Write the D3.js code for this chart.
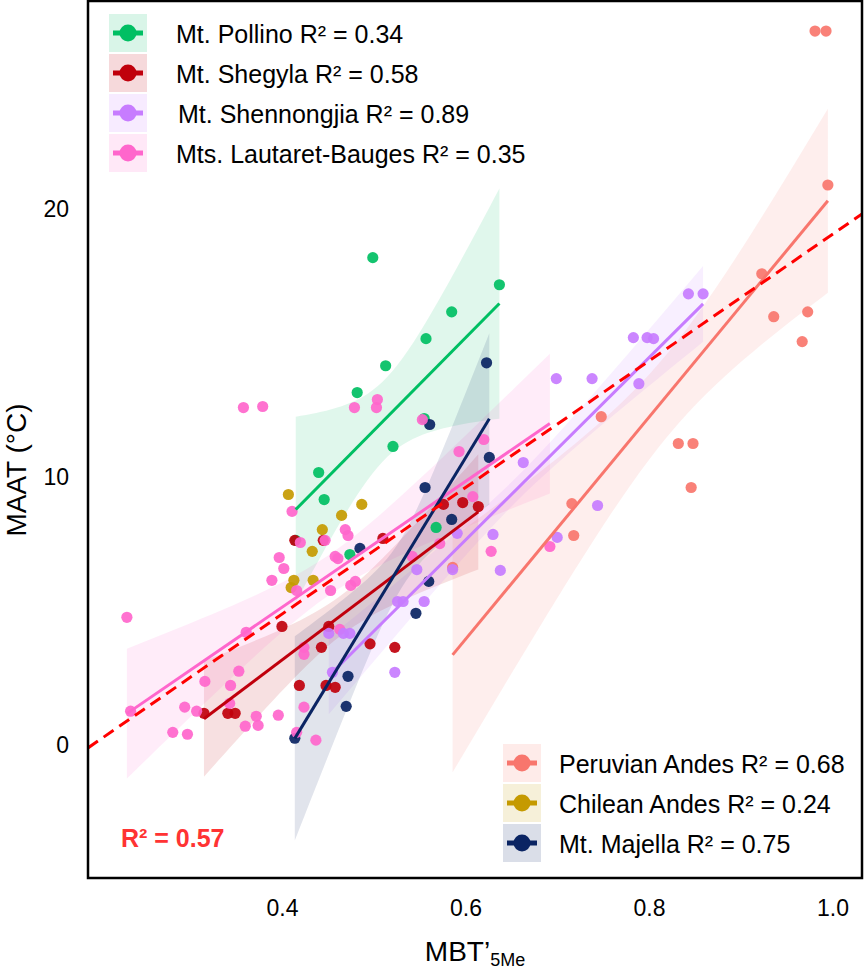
<!DOCTYPE html>
<html>
<head>
<meta charset="utf-8">
<script src="https://cdn.jsdelivr.net/npm/d3@7"></script>
<style>
  body { margin: 0; background: #fff; }
  text { font-family: "Liberation Sans", Arial, sans-serif; }
</style>
</head>
<body>
<div id="chart"></div>
<script>

// GROUPS (legend order)
var groupNames = ["Mt. Pollino", "Mt. Shegyla", "Mt. Shennongjia", "Mts. Lautaret-Bauges",
                  "Peruvian Andes", "Chilean Andes", "Mt. Majella"];
var groupR2 = ["0.34", "0.58", "0.89", "0.35", "0.68", "0.24", "0.75"];
var groupColors = ["#00bf63", "#c0000c", "#c77cff", "#ff66cc", "#f8766d", "#c59a00", "#0a2463"];

// MBT'5Me vs MAAT
var pollino = [[0.499,18.18],[0.585,16.16],[0.637,17.17],[0.557,15.16],[0.513,14.15],[0.482,13.15],
  [0.521,11.14],[0.555,12.18],[0.440,10.17],[0.446,9.16],[0.415,7.64],[0.474,7.11],[0.568,8.12]];

var shegyla = [[0.315,1.19],[0.341,1.19],[0.349,1.19],[0.400,4.43],[0.419,2.23],[0.443,3.65],
  [0.448,2.23],[0.458,2.16],[0.451,4.43],[0.496,3.78],[0.523,3.65],[0.510,7.71],[0.445,7.64],
  [0.414,7.64],[0.576,8.98],[0.597,9.05],[0.614,8.90]];

var shennongjia = [[0.455,2.72],[0.523,2.72],[0.451,4.17],[0.467,4.17],[0.474,4.17],[0.526,5.36],
  [0.532,5.36],[0.555,5.36],[0.547,6.55],[0.586,6.55],[0.591,7.90],[0.630,7.86],[0.638,6.52],
  [0.663,10.54],[0.700,7.75],[0.744,8.94],[0.699,13.67],[0.738,13.67],[0.789,13.48],[0.783,15.20],
  [0.798,15.20],[0.805,15.16],[0.843,16.83],[0.859,16.83]];

var lautaret = [[0.231,4.77],[0.235,1.27],[0.281,0.48],[0.297,0.41],[0.294,1.42],[0.307,1.27],
  [0.316,2.38],[0.343,1.56],[0.344,2.23],[0.353,2.76],[0.360,0.71],[0.361,4.21],[0.372,1.08],
  [0.374,0.74],[0.396,1.12],[0.389,6.15],[0.397,7.00],[0.402,6.59],[0.358,12.59],[0.379,12.63],
  [0.411,8.72],[0.416,5.77],[0.420,7.56],[0.424,3.65],[0.424,3.39],[0.424,1.42],[0.416,0.48],
  [0.437,0.19],[0.447,7.64],[0.453,5.77],[0.458,7.04],[0.461,6.96],[0.469,8.04],[0.472,7.82],
  [0.475,5.96],[0.480,6.11],[0.463,4.32],[0.479,12.59],[0.504,12.89],[0.503,12.59],[0.553,12.14],
  [0.593,10.95],[0.620,11.40],[0.608,9.27],[0.572,7.52],[0.542,7.04],[0.628,7.23],[0.692,7.41]];

var peruvian = [[0.586,6.63],[0.716,9.01],[0.718,7.82],[0.748,12.25],[0.832,11.25],[0.848,11.25],
  [0.846,9.61],[0.923,17.58],[0.936,15.98],[0.973,16.16],[0.967,15.05],[0.995,20.89],
  [0.981,26.63],[0.993,26.63]];

var chilean = [[0.407,9.35],[0.487,8.98],[0.465,8.57],[0.444,8.04],[0.433,7.23],[0.413,6.15],
  [0.434,6.15],[0.410,5.88]];

var majella = [[0.414,0.26],[0.470,1.45],[0.472,2.57],[0.485,7.34],[0.546,4.92],[0.560,6.11],
  [0.585,8.42],[0.556,9.61],[0.561,11.96],[0.626,10.73],[0.623,14.26]];

var groupPoints = [pollino, shegyla, shennongjia, lautaret, peruvian, chilean, majella];

// FITTED LINES (null = no line drawn)
var fitSlope     = [34.6, 25.8, 34.0, 23.46, 41.4, null, 56.2];
var fitIntercept = [-5.57, -7.14, -12.75, -4.24, -20.89, null, -23.01];

// CONFIDENCE BAND: centre x, half width there, widening
var bandCenter = [0.512, 0.465, 0.656, 0.452, 0.82, null, 0.53];
var bandMin    = [1.49, 0.75, 0.45, 0.75, 1.55, null, 0.93];
var bandSpread = [32.2, 13.5, 6.6, 10.4, 17.5, null, 31.8];

// ALL DATA FIT
var allSlope = 23.6, allIntercept = -4.55, allR2 = "0.57";

var xTicks = [0.4, 0.6, 0.8, 1.0];
var yTicks = [0, 10, 20];

// SIZES
var svgWidth = 864, svgHeight = 970;
var margin = {top: 1, right: 2, bottom: 92, left: 88};
var width = svgWidth - margin.left - margin.right;
var height = svgHeight - margin.top - margin.bottom;

var svg = d3.select("#chart").append("svg")
    .attr("width", svgWidth)
    .attr("height", svgHeight);

var chartGroup = svg.append("g")
    .attr("transform", `translate(${margin.left}, ${margin.top})`);

var x = d3.scaleLinear().domain([0.1886, 1.0322]).range([0, width]);
var y = d3.scaleLinear().domain([-4.95, 27.75]).range([height, 0]);

chartGroup.append("clipPath").attr("id", "clip")
  .append("rect").attr("width", width).attr("height", height);

var plot = chartGroup.append("g").attr("clip-path", "url(#clip)");

// BANDS
groupPoints.forEach(function(pts, i) {
    if (fitSlope[i] === null) return;
    var ext = d3.extent(pts, function(d) { return d[0]; });
    var xs = d3.range(0, 41).map(function(k) { return ext[0] + (ext[1] - ext[0]) * k / 40; });
    var band = xs.map(function(v) {
        var fit = fitSlope[i] * v + fitIntercept[i];
        var dx = v - bandCenter[i];
        var h = Math.sqrt(bandMin[i] * bandMin[i] + bandSpread[i] * bandSpread[i] * dx * dx);
        return {x: v, lo: fit - h, hi: fit + h};
    });
    plot.append("path")
        .datum(band)
        .attr("d", d3.area()
            .x(function(d) { return x(d.x); })
            .y0(function(d) { return y(d.lo); })
            .y1(function(d) { return y(d.hi); }))
        .attr("fill", groupColors[i])
        .attr("opacity", 0.12);
});

// POINTS
var pointOrder = [4, 0, 1, 5, 6, 3, 2];
pointOrder.forEach(function(i) {
    plot.selectAll(null)
        .data(groupPoints[i])
        .enter()
        .append("circle")
        .attr("cx", function(d) { return x(d[0]); })
        .attr("cy", function(d) { return y(d[1]); })
        .attr("r", 5.6)
        .attr("fill", groupColors[i])
        .attr("opacity", 0.92);
});

// FIT LINES
[0, 1, 2, 3, 4, 6].forEach(function(i) {
    var ext = d3.extent(groupPoints[i], function(d) { return d[0]; });
    plot.append("line")
        .attr("x1", x(ext[0]))
        .attr("y1", y(fitSlope[i] * ext[0] + fitIntercept[i]))
        .attr("x2", x(ext[1]))
        .attr("y2", y(fitSlope[i] * ext[1] + fitIntercept[i]))
        .attr("stroke", groupColors[i])
        .attr("stroke-width", 3);
});

// ALL-DATA DASHED FIT
var xd = x.domain();
plot.append("line")
    .attr("x1", x(xd[0]))
    .attr("y1", y(allSlope * xd[0] + allIntercept))
    .attr("x2", x(xd[1]))
    .attr("y2", y(allSlope * xd[1] + allIntercept))
    .attr("stroke", "#ff0000")
    .attr("stroke-width", 3)
    .attr("stroke-dasharray", "12,7");

chartGroup.append("text")
    .attr("x", 33)
    .attr("y", 846)
    .attr("font-size", "25px")
    .attr("font-weight", "bold")
    .attr("fill", "#ff3333")
    .text("R\u00b2 = " + allR2);

// AXES
var xAxis = chartGroup.append("g")
    .attr("transform", `translate(0, ${height})`)
    .call(d3.axisBottom(x).tickValues(xTicks).tickSize(0).tickPadding(22).tickFormat(d3.format(".1f")));
var yAxis = chartGroup.append("g")
    .call(d3.axisLeft(y).tickValues(yTicks).tickSize(0).tickPadding(19).tickFormat(d3.format("d")));
[xAxis, yAxis].forEach(function(a) {
    a.select(".domain").remove();
    a.selectAll("text").attr("font-size", "23px").attr("fill", "#000")
        .attr("font-family", "'Liberation Sans', Arial, sans-serif");
});

// FRAME
chartGroup.append("rect")
    .attr("width", width)
    .attr("height", height)
    .attr("fill", "none")
    .attr("stroke", "#000")
    .attr("stroke-width", 2.5);

// LEGENDS
function legendRow(i, lx, cy, tx) {
    var g = svg.append("g");
    g.append("rect")
        .attr("x", lx).attr("y", cy - 19)
        .attr("width", 38).attr("height", 38)
        .attr("fill", groupColors[i]).attr("opacity", 0.15);
    g.append("line")
        .attr("x1", lx + 4).attr("x2", lx + 34)
        .attr("y1", cy).attr("y2", cy)
        .attr("stroke", groupColors[i]).attr("stroke-width", 5);
    g.append("circle")
        .attr("cx", lx + 19).attr("cy", cy).attr("r", 8.5)
        .attr("fill", groupColors[i]);
    g.append("text")
        .attr("x", tx).attr("y", cy + 9.5)
        .attr("font-size", "25px")
        .attr("fill", "#000")
        .text(groupNames[i] + " R\u00b2 = " + groupR2[i]);
}
[0, 1, 2, 3].forEach(function(i, k) {
    legendRow(i, 109, 33 + k * 40, i === 2 ? 178 : 176);
});
[4, 5, 6].forEach(function(i, k) {
    legendRow(i, 503, 763 + k * 40, 559);
});

// AXIS LABELS
var xLabel = svg.append("text")
    .attr("x", 475)
    .attr("y", 961)
    .attr("text-anchor", "middle")
    .attr("font-size", "28px")
    .attr("fill", "#000");
xLabel.append("tspan").text("MBT\u2019");
xLabel.append("tspan").attr("font-size", "18px").attr("dy", 5).text("5Me");

svg.append("text")
    .attr("transform", "translate(26, 470) rotate(-90)")
    .attr("text-anchor", "middle")
    .attr("font-size", "28px")
    .attr("fill", "#000")
    .text("MAAT (\u00b0C)");

</script>
</body>
</html>
